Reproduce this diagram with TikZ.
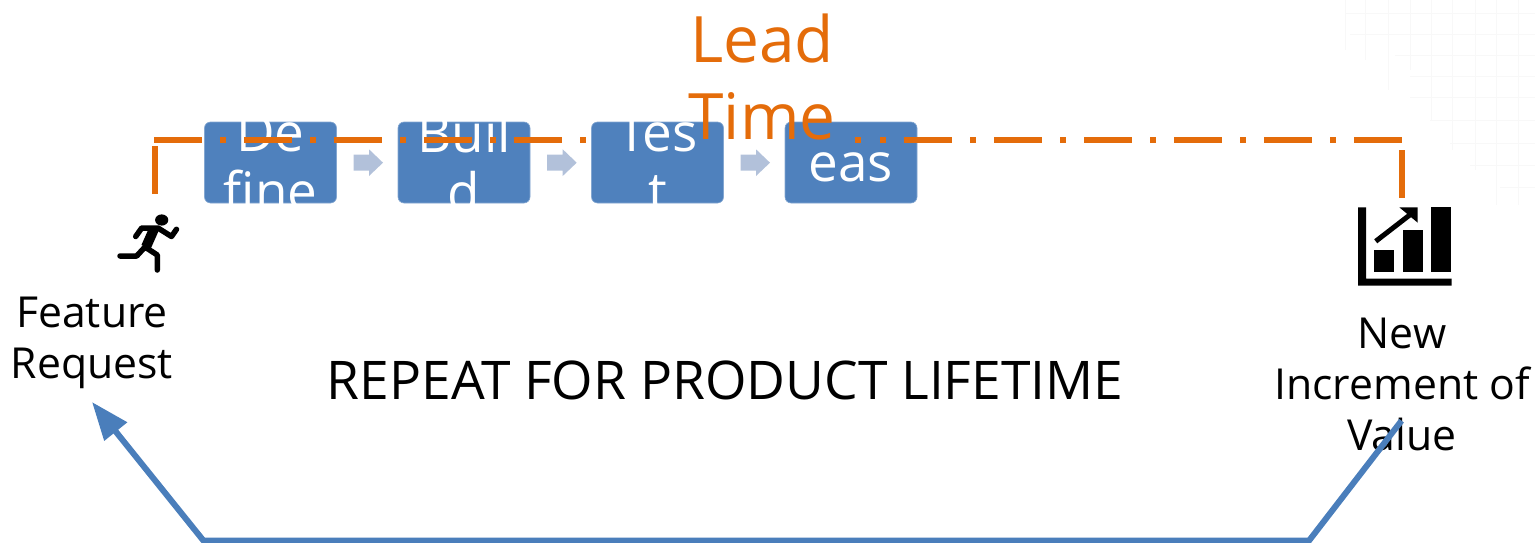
\documentclass[tikz,border=0pt]{standalone}
\usepackage{fontspec}
\setmainfont{Open Sans}
\usetikzlibrary{arrows.meta}
\definecolor{boxblue}{HTML}{4F81BD}
\definecolor{linkblue}{HTML}{4A7EBB}
\definecolor{orangeline}{HTML}{E46C0A}
\definecolor{chev}{HTML}{B2C1DA}
\definecolor{gridc}{HTML}{F8F8F8}
\tikzset{
 stepbox/.style={fill=boxblue,draw=boxblue!70!white,line width=.6pt,rounded corners=6pt,minimum width=132pt,minimum height=81pt,inner sep=0pt},
 steptext/.style={text=white,font=\fontsize{53}{59}\selectfont,align=center,inner sep=0pt},
 leadline/.style={draw=orangeline,line width=6pt},
 dashdot/.style={leadline,dash pattern=on 48pt off 18pt on 6pt off 18pt},
 blacktext/.style={text=black,align=center,inner sep=0pt},
 chevron/.style={fill=chev},
 icon/.style={fill=black,draw=none},
 limb/.style={draw=black,line width=5.5pt,line cap=round,line join=round},
 loopline/.style={draw=linkblue,line width=6pt,line join=miter},
 gridline/.style={draw=gridc,line width=1pt},
}
\begin{document}
\begin{tikzpicture}[x=1pt,y=-1pt]
\useasboundingbox (0,0) rectangle (1535,543);
% faint texture
\foreach \x/\a/\b in {1345/0/50,1365/0/60,1388/0/90,1410/0/70,1431/0/120,1452/0/150,1475/0/170,1496/0/205,1518/0/205}
  \draw[gridline] (\x,\a) -- (\x,\b);
\foreach \y/\a in {14/1345,35/1350,56/1395,77/1410,98/1410,120/1430,143/1450,165/1470,187/1500}
  \draw[gridline] (\a,\y) -- (1535,\y);
% boxes
\node[stepbox] (define) at (270.5,162.5) {};
\node[stepbox] (build) at (464,162.5) {};
\node[stepbox] (test) at (657.5,162.5) {};
\node[stepbox] (release) at (851,162.5) {};
\node[steptext] (t1) at (270.5,162) {De\\fine};
\node[steptext] (t2) at (464,162) {Buil\\d};
\node[steptext] (t3) at (657.5,162) {Tes\\t};
\node[steptext] (t4) at (851,167.5) {eas};
% small arrows
\foreach \dx/\n in {0/a,193.7/b,387/c}
  \fill[chevron,shift={(\dx,0)}] (353.5,154.5) -- (369,154.5) -- (369,149.3) -- (383,162.7) -- (369,176) -- (369,170.7) -- (353.5,170.7) -- cycle;
% lead time line
\coordinate (ls) at (155,194);
\coordinate (lt) at (155,146);
\coordinate (la) at (154.3,140.4);
\coordinate (lb) at (586.8,140.4);
\coordinate (lc) at (855,140.4);
\coordinate (ld) at (886,140.4);
\coordinate (le) at (904,140.4);
\coordinate (lf) at (1402,140.4);
\coordinate (lg) at (1402,150);
\coordinate (lh) at (1402,198);
\draw[leadline] (ls) -- (lt);
\draw[dashdot] (la) -- (lb);
\draw[leadline,dash pattern=on 6pt off 19pt] (lc) -- (ld);
\draw[dashdot] (le) -- (lf);
\draw[leadline] (lg) -- (lh);
\node[text=orangeline,font=\fontsize{64}{77}\selectfont,align=center,inner sep=0pt] (lead) at (762,77) {Lead\\Time};
% runner
\fill[black] (161.7,220) ellipse (6.6pt and 5.6pt);
\draw[limb] (135.7,236.5) -- (141.7,228) -- (158,228) -- (171.5,236.5) -- (176.5,229.3);
\draw[limb,line width=10pt,line cap=butt] (154,229) -- (146,247);
\draw[limb] (120,256) -- (136.7,256) -- (145,247) -- (157.3,255) -- (157.3,270);
% chart
\fill[icon] (1358,207.3) -- (1366,207.3) -- (1366,278.7) -- (1451.7,278.7) -- (1451.7,285.7) -- (1358,285.7) -- cycle;
\fill[icon] (1374.3,249.7) rectangle (1394.3,272.3);
\fill[icon] (1402.7,229.7) rectangle (1423,272.3);
\fill[icon] (1431,207.3) rectangle (1451.3,272.3);
\draw[black,line width=5pt] (1375.7,241.3) -- (1411,214);
\fill[icon] (1399.3,207.3) -- (1417.7,207.3) -- (1417.7,222.7) -- cycle;
% labels
\node[blacktext,font=\fontsize{42.7}{51}\selectfont] (feature) at (92,343) {Feature\\Request};
\node[blacktext,font=\fontsize{42.7}{51}\selectfont] (value) at (1402,384.5) {New\\Increment of\\Value};
\node[blacktext,font=\fontsize{53.3}{60}\selectfont] (repeat) at (725,380) {REPEAT FOR PRODUCT LIFETIME};
% loop
\coordinate (p1) at (1401.5,420.7);
\coordinate (p2) at (1309,540.7);
\coordinate (p3) at (203.5,540.7);
\coordinate (p4) at (92,402);
\draw[loopline,-{Triangle[length=38pt,width=28pt]}] (p1) -- (p2) -- (p3) -- (p4);
\end{tikzpicture}
\end{document}
